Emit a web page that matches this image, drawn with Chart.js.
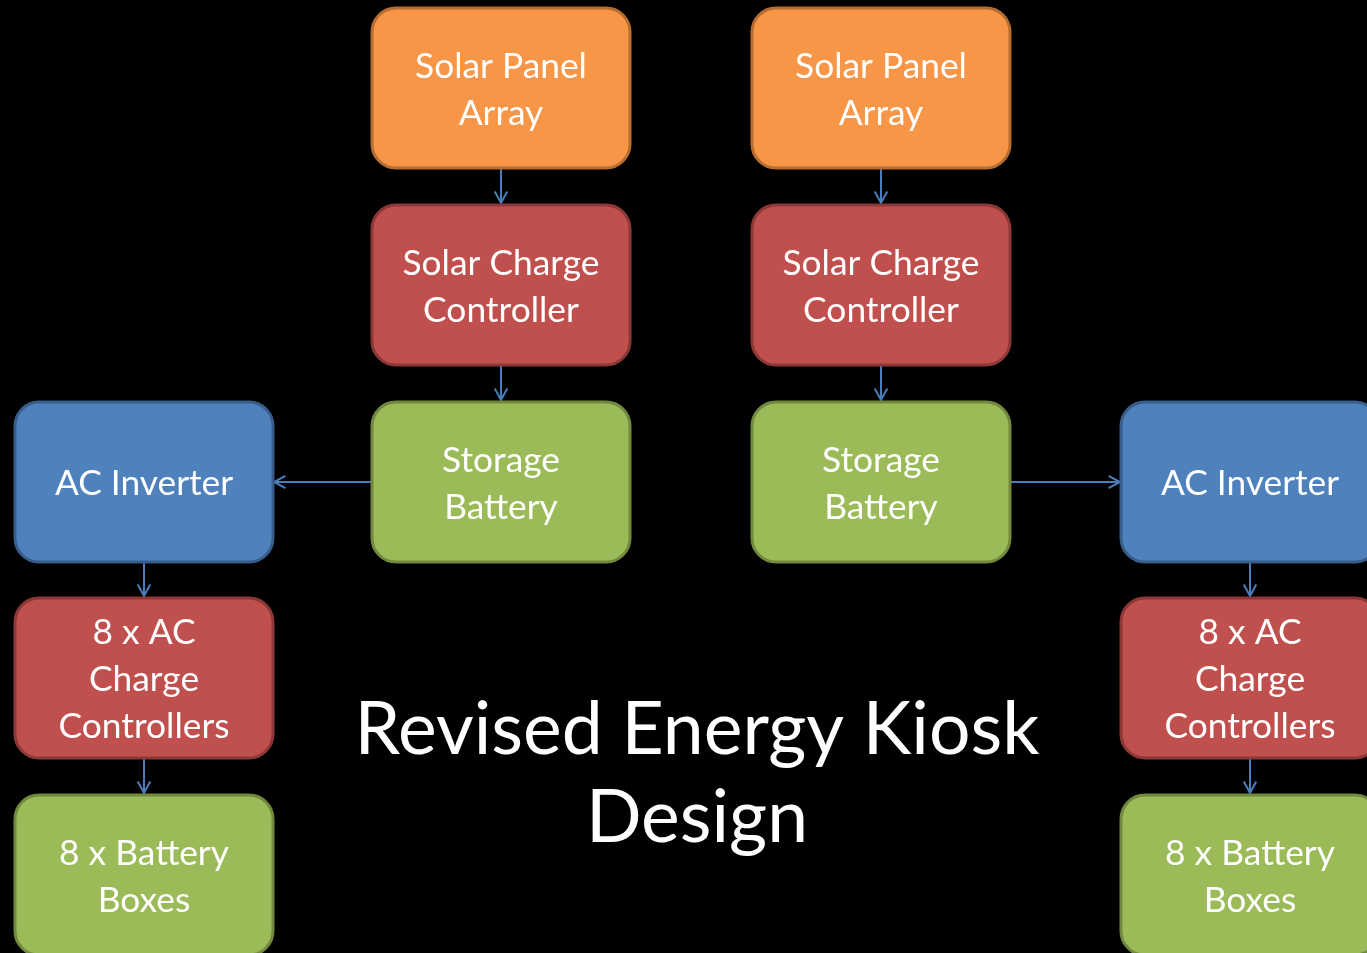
<!DOCTYPE html>
<html>
<head>
<meta charset="utf-8">
<script src="https://cdn.jsdelivr.net/npm/chart.js@4"></script>
<style>
  html, body { margin: 0; padding: 0; background: #000; }
  #wrap { width: 1367px; height: 953px; position: relative; }
</style>
</head>
<body>
<div id="wrap"><canvas id="flow"></canvas></div>
<script>
// node data: label lines, center position (x, y) on the diagram plane, kind
const nodeLabels = [
    ['Solar Panel', 'Array'],
    ['Solar Charge', 'Controller'],
    ['Storage', 'Battery'],
    ['Solar Panel', 'Array'],
    ['Solar Charge', 'Controller'],
    ['Storage', 'Battery'],
    ['AC Inverter'],
    ['8 x AC', 'Charge', 'Controllers'],
    ['8 x Battery', 'Boxes'],
    ['AC Inverter'],
    ['8 x AC', 'Charge', 'Controllers'],
    ['8 x Battery', 'Boxes']
];
const nodeX = [501, 501, 501, 881, 881, 881, 144, 144, 144, 1250, 1250, 1250];
const nodeY = [88, 285, 482, 88, 285, 482, 482, 678, 875, 482, 678, 875];
const nodeKind = ['panel', 'controller', 'battery', 'panel', 'controller', 'battery',
    'inverter', 'controller', 'battery', 'inverter', 'controller', 'battery'];

// connections (from index -> to index)
const edgeFrom = [0, 1, 3, 4, 2, 5, 6, 7, 9, 10];
const edgeTo   = [1, 2, 4, 5, 6, 9, 7, 8, 10, 11];

const titleLines = ['Revised Energy Kiosk', 'Design'];

const kindStyle = {
    panel:      { fill: '#F79646', stroke: '#B66D31' },
    controller: { fill: '#C0504D', stroke: '#8C3836' },
    battery:    { fill: '#9BBB59', stroke: '#71893F' },
    inverter:   { fill: '#4F81BD', stroke: '#385D8A' }
};
const BOX_W = 258, BOX_H = 160, RADIUS = 24;
const FONT = 'Lato, "Open Sans", sans-serif';
const ARROW = '#4A7EBB';

function fitSize(ctx, text, target) {
    ctx.font = '100px ' + FONT;
    return 100 * target / ctx.measureText(text).width;
}

const flowPlugin = {
    id: 'flow',
    beforeDraw(chart) {
        const ctx = chart.ctx;
        ctx.save();
        ctx.fillStyle = '#000';
        ctx.fillRect(0, 0, chart.width, chart.height);
        ctx.restore();
    },
    afterDatasetsDraw(chart) {
        const ctx = chart.ctx;
        const xs = chart.scales.x, ys = chart.scales.y;
        const pts = chart.getDatasetMeta(0).data;
        const hw = Math.abs(xs.getPixelForValue(BOX_W) - xs.getPixelForValue(0)) / 2;
        const hh = Math.abs(ys.getPixelForValue(BOX_H) - ys.getPixelForValue(0)) / 2;

        // arrows
        ctx.save();
        ctx.strokeStyle = ARROW;
        ctx.lineWidth = 2;
        edgeFrom.forEach((f, i) => {
            const a = pts[f], b = pts[edgeTo[i]];
            let x1, y1, x2, y2;
            if (Math.abs(a.x - b.x) < 1) {
                x1 = a.x; x2 = b.x;
                y1 = a.y + hh; y2 = b.y - hh - 2;
            } else {
                const dir = b.x > a.x ? 1 : -1;
                y1 = a.y; y2 = b.y;
                x1 = a.x + dir * hw; x2 = b.x - dir * (hw + 1);
            }
            ctx.beginPath();
            ctx.moveTo(x1, y1);
            ctx.lineTo(x2, y2);
            ctx.stroke();
            const ang = Math.atan2(y2 - y1, x2 - x1);
            const L = 13, s = 0.5;
            ctx.beginPath();
            ctx.moveTo(x2 - L * Math.cos(ang - s), y2 - L * Math.sin(ang - s));
            ctx.lineTo(x2, y2);
            ctx.lineTo(x2 - L * Math.cos(ang + s), y2 - L * Math.sin(ang + s));
            ctx.stroke();
        });
        ctx.restore();

        // boxes
        const boxSize = fitSize(ctx, 'Solar Charge', 197);
        pts.forEach((p, i) => {
            const st = kindStyle[nodeKind[i]];
            ctx.save();
            ctx.beginPath();
            ctx.roundRect(p.x - hw, p.y - hh, hw * 2, hh * 2, RADIUS);
            ctx.fillStyle = st.fill;
            ctx.fill();
            ctx.lineWidth = 3;
            ctx.strokeStyle = st.stroke;
            ctx.stroke();
            ctx.fillStyle = '#fff';
            ctx.font = boxSize + 'px ' + FONT;
            ctx.textAlign = 'center';
            ctx.textBaseline = 'middle';
            const lines = nodeLabels[i];
            const lh = 47;
            lines.forEach((t, k) => {
                ctx.fillText(t, p.x, p.y + 2 + (k - (lines.length - 1) / 2) * lh);
            });
            ctx.restore();
        });

        // title
        ctx.save();
        const tSize = fitSize(ctx, titleLines[0], 685);
        ctx.font = tSize + 'px ' + FONT;
        ctx.fillStyle = '#fff';
        ctx.textAlign = 'center';
        ctx.textBaseline = 'middle';
        const cx = xs.getPixelForValue(697);
        ctx.fillText(titleLines[0], cx, ys.getPixelForValue(730));
        ctx.fillText(titleLines[1], cx, ys.getPixelForValue(818));
        ctx.restore();
    }
};

new Chart(document.getElementById('flow'), {
    type: 'scatter',
    data: {
        datasets: [{
            data: nodeX.map((x, i) => ({ x: x, y: nodeY[i] })),
            pointRadius: 0,
            pointHoverRadius: 0
        }]
    },
    options: {
        responsive: true,
        maintainAspectRatio: false,
        animation: false,
        layout: { padding: 0 },
        events: [],
        plugins: {
            legend: { display: false },
            tooltip: { enabled: false }
        },
        scales: {
            x: { type: 'linear', min: 0, max: 1367, display: false },
            y: { type: 'linear', min: 0, max: 953, reverse: true, display: false }
        }
    },
    plugins: [flowPlugin]
});
</script>
</body>
</html>
